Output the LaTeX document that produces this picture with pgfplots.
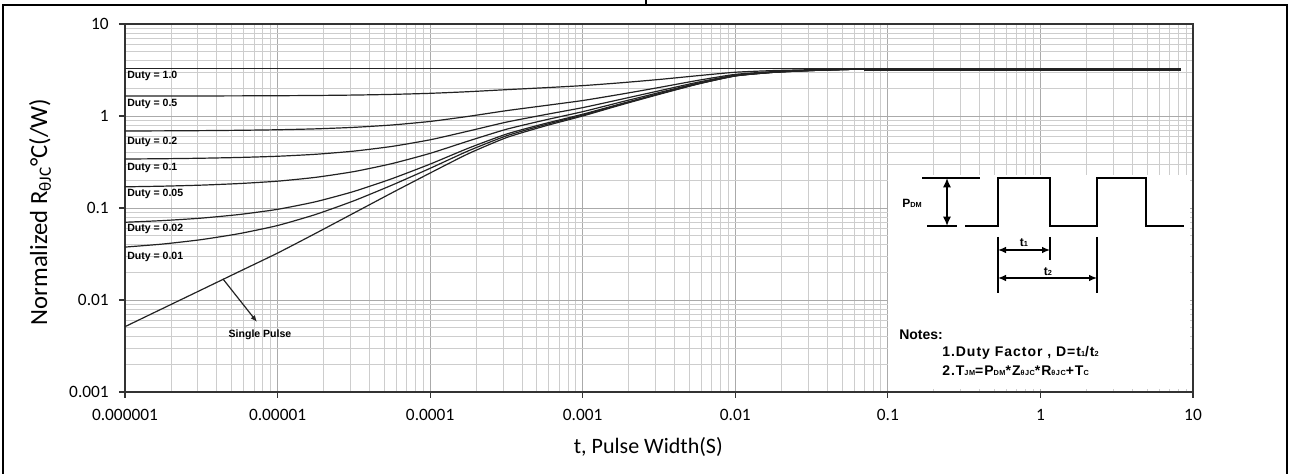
\documentclass[border=0pt]{standalone}
\usepackage{fontspec}
\setmainfont{Carlito}
\newfontfamily\arial{Liberation Sans}
\newfontfamily\arialsp[LetterSpace=7]{Liberation Sans}
\usepackage{pgfplots}
\usepackage{pgfplotstable}
\pgfplotsset{compat=1.18}
\usetikzlibrary{arrows.meta}
\newcommand{\sub}[1]{{\fontsize{5.5}{5.5}\selectfont #1}}
\definecolor{curve}{HTML}{222222}
\definecolor{gmaj}{HTML}{AAAAAA}
\definecolor{gmin}{HTML}{CDCDCD}

\pgfplotstableread{
x        s       d01    d02    d05    d1     d2     d5     d10
1e-6     0.00513 0.0376 0.0700 0.1699 0.3406 0.6871 1.6475 3.25
1.778e-6 0.00813 0.0406 0.0730 0.1727 0.3433 0.6894 1.6490 3.25
3.162e-6 0.01288 0.0453 0.0776 0.1772 0.3475 0.6932 1.6514 3.25
5.623e-6 0.02042 0.0527 0.0850 0.1844 0.3543 0.6991 1.6551 3.25
1e-5     0.03236 0.0645 0.0967 0.1957 0.3650 0.7086 1.6610 3.25
1.778e-5 0.05309 0.0851 0.1170 0.2154 0.3836 0.7249 1.6712 3.25
3.162e-5 0.0881  0.1197 0.1513 0.2486 0.4150 0.7526 1.6885 3.25
5.623e-5 0.1462  0.1772 0.2083 0.3038 0.4671 0.7985 1.7172 3.25
1e-4     0.2399  0.2700 0.3001 0.3927 0.5511 0.8725 1.7635 3.25
1.778e-4 0.3890  0.4176 0.4462 0.5342 0.6848 0.9902 1.8371 3.25
3.162e-4 0.5821  0.6088 0.6355 0.7175 0.8579 1.1427 1.9324 3.25
5.623e-4 0.7762  0.8009 0.8257 0.9018 1.0319 1.2960 2.0283 3.25
1e-3     1.000   1.0225 1.0450 1.1142 1.2326 1.4728 2.1388 3.25
1.778e-3 1.318   1.3373 1.3566 1.4161 1.5177 1.7240 2.2958 3.25
3.162e-3 1.718   1.7333 1.7486 1.7957 1.8764 2.0399 2.4934 3.25
5.623e-3 2.213   2.2234 2.2337 2.2656 2.3202 2.4308 2.7378 3.25
1e-2     2.723   2.7283 2.7335 2.7497 2.7774 2.8336 2.9896 3.25
1.778e-2 2.980   2.9827 2.9854 2.9936 3.0079 3.0366 3.1165 3.25
3.162e-2 3.120   3.1213 3.1226 3.1265 3.1334 3.1472 3.1857 3.25
5.623e-2 3.210   3.2104 3.2108 3.2119 3.2141 3.2183 3.2301 3.25
0.1      3.25    3.25   3.25   3.25   3.25   3.25   3.25   3.25
8.3      3.25    3.25   3.25   3.25   3.25   3.25   3.25   3.25
}\zthdata

\begin{document}
\begin{tikzpicture}
\useasboundingbox (0,0) rectangle (968.25pt,355.5pt);
\begin{axis}[
  at={(93.75pt,61.5pt)}, anchor=south west,
  scale only axis, width=801pt, height=276pt,
  xmode=log, ymode=log,
  xmin=1e-6, xmax=10, ymin=1e-3, ymax=10,
  xtick={1e-6,1e-5,1e-4,1e-3,1e-2,1e-1,1,10},
  xticklabels={0.000001,0.00001,0.0001,0.001,0.01,0.1,1,10},
  ytick={1e-3,1e-2,1e-1,1,10},
  yticklabels={0.001,0.01,0.1,1,10},
  minor xtick={2e-6,3e-6,4e-6,5e-6,6e-6,7e-6,8e-6,9e-6,
               2e-5,3e-5,4e-5,5e-5,6e-5,7e-5,8e-5,9e-5,
               2e-4,3e-4,4e-4,5e-4,6e-4,7e-4,8e-4,9e-4,
               2e-3,3e-3,4e-3,5e-3,6e-3,7e-3,8e-3,9e-3,
               2e-2,3e-2,4e-2,5e-2,6e-2,7e-2,8e-2,9e-2,
               0.2,0.3,0.4,0.5,0.6,0.7,0.8,0.9,
               2,3,4,5,6,7,8,9},
  minor ytick={2e-3,3e-3,4e-3,5e-3,6e-3,7e-3,8e-3,9e-3,
               2e-2,3e-2,4e-2,5e-2,6e-2,7e-2,8e-2,9e-2,
               0.2,0.3,0.4,0.5,0.6,0.7,0.8,0.9,
               2,3,4,5,6,7,8,9},
  grid=both,
  major grid style={gmaj, line width=0.6pt},
  minor grid style={gmin, line width=0.6pt},
  minor tick length=0pt,
  major tick length=4.5pt,
  tick align=outside,
  tick pos=left,
  major tick style={line width=0.8pt, black!80},
  axis line style={line width=1.1pt, black!80},
  /pgf/number format/assume math mode=true,
  ticklabel style={font=\fontsize{13}{15}\selectfont, inner sep=0pt},
  xticklabel shift=8pt,
  yticklabel shift=7.5pt,
  xlabel={t, Pulse Width(S)},
  ylabel={Normalized R\textsubscript{θJC}°C(/W)},
  xlabel style={font=\fontsize{16.5}{18}\selectfont, at={(axis description cs:0.49,-0.1495)}, anchor=center},
  ylabel style={font=\fontsize{18.5}{21}\selectfont, at={(axis description cs:-0.0796,0.489)}, anchor=center},
  zc/.style={line width=0.9pt, color=curve, solid, no marks, smooth, tension=0.35},
]
\fill[white] (axis cs:0.1,0.00108) rectangle (axis cs:9.5,0.227);
\addplot[zc] table[x=x, y=s]   {\zthdata};
\addplot[zc] table[x=x, y=d01] {\zthdata};
\addplot[zc] table[x=x, y=d02] {\zthdata};
\addplot[zc] table[x=x, y=d05] {\zthdata};
\addplot[zc] table[x=x, y=d1]  {\zthdata};
\addplot[zc] table[x=x, y=d2]  {\zthdata};
\addplot[zc] table[x=x, y=d5]  {\zthdata};
\addplot[zc] table[x=x, y=d10] {\zthdata};
\addplot[zc, sharp plot, line width=2.4pt] coordinates {(0.07,3.2) (8.3,3.2)};
\end{axis}

\begin{scope}[x=0.75pt, y=-0.75pt, yshift=355.5pt]
  % frame
  \draw[line width=0.8pt] (3,474) -- (3,5) -- (1287,5) -- (1287,474);
  \draw[line width=0.8pt] (646,0) -- (646,5);
  % duty labels
  \begin{scope}[every node/.style={anchor=west, inner sep=0pt, font=\arial\bfseries\fontsize{7.9}{9}\selectfont}]
    \node at (127,76) {Duty = 1.0};
    \node at (127,103.5) {Duty = 0.5};
    \node at (127,141.7) {Duty = 0.2};
    \node at (127,168) {Duty = 0.1};
    \node at (127,194.3) {Duty = 0.05};
    \node at (127,229) {Duty = 0.02};
    \node at (127,256.7) {Duty = 0.01};
  \end{scope}
  % single pulse arrow
  \draw[line width=0.9pt, curve, -{Latex[length=5pt,width=4pt]}] (223,279) -- (257,322);
  \node[inner sep=0pt, font=\arial\bfseries\fontsize{7.9}{9}\selectfont] at (260,335) {Single Pulse};
  % inset
  \draw[line width=1.3pt] (922,178) -- (980,178);
  \draw[line width=1.3pt] (927,226) -- (957,226);
  \draw[line width=1.1pt, {Latex[length=7pt,width=6pt]}-{Latex[length=7pt,width=6pt]}] (947,178) -- (947,226);
  \draw[line width=1.5pt] (965,226) -- (998,226) -- (998,178) -- (1050,178) -- (1050,226) -- (1097,226) -- (1097,178) -- (1146,178) -- (1146,226) -- (1184,226);
  \draw[line width=1pt] (998,237) -- (998,293);
  \draw[line width=1pt] (1050,237) -- (1050,260);
  \draw[line width=1pt] (1097,237) -- (1097,293);
  \draw[line width=1pt, {Latex[length=6pt,width=5pt]}-{Latex[length=6pt,width=5pt]}] (998,250) -- (1050,250);
  \draw[line width=1pt, {Latex[length=6pt,width=5pt]}-{Latex[length=6pt,width=5pt]}] (998,278) -- (1097,278);
  \begin{scope}[every node/.style={inner sep=0pt, font=\arial\bfseries\fontsize{9}{10}\selectfont}]
    \node at (912,203) {P\sub{DM}};
    \node at (1024,243) {t\sub{1}};
    \node at (1048,272) {t\sub{2}};
    \node[anchor=west, font=\arial\bfseries\fontsize{10.5}{12}\selectfont] at (899,335) {Notes:};
    \node[anchor=west, font=\arialsp\bfseries\fontsize{10.5}{12}\selectfont] at (942,353) {1.Duty Factor , D=t\sub{1}/t\sub{2}};
    \node[anchor=west, font=\arialsp\bfseries\fontsize{10.5}{12}\selectfont] at (942,371) {2.T\sub{JM}=P\sub{DM}*Z\sub{θJC}*R\sub{θJC}+T\sub{C}};
  \end{scope}
\end{scope}
\end{tikzpicture}
\end{document}
